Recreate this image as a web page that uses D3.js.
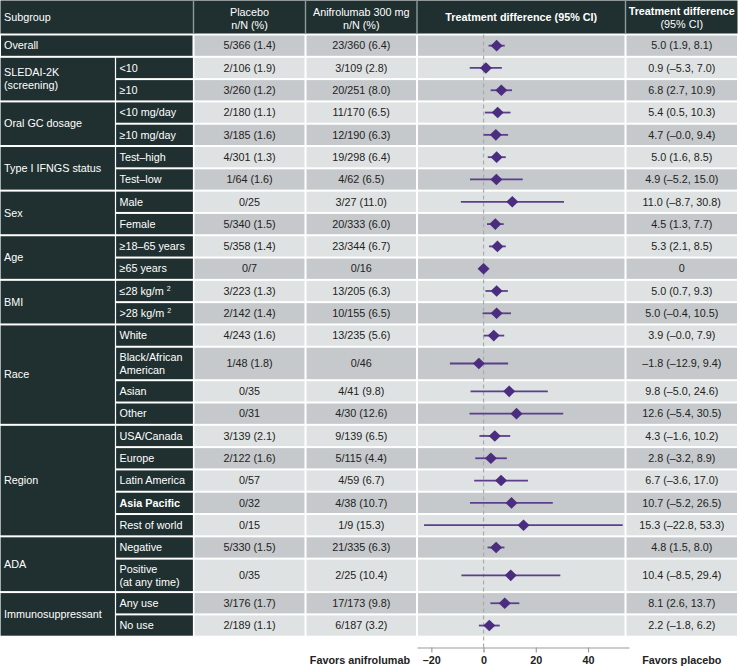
<!DOCTYPE html>
<html><head><meta charset="utf-8">
<script src="https://cdn.jsdelivr.net/npm/d3@7"></script>
<style>
body{margin:0;background:#fff}
svg{display:block}
text{font-family:"Liberation Sans",Arial,Helvetica,sans-serif;font-size:10.8px}
</style>
</head><body>
<svg id="c" width="738" height="668"></svg>
<script>
// ---------- data ----------
const groupLabels = ["Overall","SLEDAI-2K\n(screening)","Oral GC dosage","Type I IFNGS status","Sex","Age","BMI","Race","Region","ADA","Immunosuppressant"];
const groupSizes  = [1,2,2,2,2,2,2,4,5,2,2];
const subgroups = [null,"<10","≥10","<10 mg/day","≥10 mg/day","Test–high","Test–low","Male","Female","≥18–65 years","≥65 years","≤28 kg/m²",">28 kg/m²","White","Black/African\nAmerican","Asian","Other","USA/Canada","Europe","Latin America","Asia Pacific","Rest of world","Negative","Positive\n(at any time)","Any use","No use"];
const placebo = ["5/366 (1.4)","2/106 (1.9)","3/260 (1.2)","2/180 (1.1)","3/185 (1.6)","4/301 (1.3)","1/64 (1.6)","0/25","5/340 (1.5)","5/358 (1.4)","0/7","3/223 (1.3)","2/142 (1.4)","4/243 (1.6)","1/48 (1.8)","0/35","0/31","3/139 (2.1)","2/122 (1.6)","0/57","0/32","0/15","5/330 (1.5)","0/35","3/176 (1.7)","2/189 (1.1)"];
const anifrolumab = ["23/360 (6.4)","3/109 (2.8)","20/251 (8.0)","11/170 (6.5)","12/190 (6.3)","19/298 (6.4)","4/62 (6.5)","3/27 (11.0)","20/333 (6.0)","23/344 (6.7)","0/16","13/205 (6.3)","10/155 (6.5)","13/235 (5.6)","0/46","4/41 (9.8)","4/30 (12.6)","9/139 (6.5)","5/115 (4.4)","4/59 (6.7)","4/38 (10.7)","1/9 (15.3)","21/335 (6.3)","2/25 (10.4)","17/173 (9.8)","6/187 (3.2)"];
const estimate = [5.0,0.9,6.8,5.4,4.7,5.0,4.9,11.0,4.5,5.3,0,5.0,5.0,3.9,-1.8,9.8,12.6,4.3,2.8,6.7,10.7,15.3,4.8,10.4,8.1,2.2];
const lower = [1.9,-5.3,2.7,0.5,-0.0,1.6,-5.2,-8.7,1.3,2.1,null,0.7,-0.4,-0.0,-12.9,-5.0,-5.4,-1.6,-3.2,-3.6,-5.2,-22.8,1.5,-8.5,2.6,-1.8];
const upper = [8.1,7.0,10.9,10.3,9.4,8.5,15.0,30.8,7.7,8.5,null,9.3,10.5,7.9,9.4,24.6,30.5,10.2,8.9,17.0,26.5,53.3,8.0,29.4,13.7,6.2];
const diffText = ["5.0 (1.9, 8.1)","0.9 (–5.3, 7.0)","6.8 (2.7, 10.9)","5.4 (0.5, 10.3)","4.7 (–0.0, 9.4)","5.0 (1.6, 8.5)","4.9 (–5.2, 15.0)","11.0 (–8.7, 30.8)","4.5 (1.3, 7.7)","5.3 (2.1, 8.5)","0","5.0 (0.7, 9.3)","5.0 (–0.4, 10.5)","3.9 (–0.0, 7.9)","–1.8 (–12.9, 9.4)","9.8 (–5.0, 24.6)","12.6 (–5.4, 30.5)","4.3 (–1.6, 10.2)","2.8 (–3.2, 8.9)","6.7 (–3.6, 17.0)","10.7 (–5.2, 26.5)","15.3 (–22.8, 53.3)","4.8 (1.5, 8.0)","10.4 (–8.5, 29.4)","8.1 (2.6, 13.7)","2.2 (–1.8, 6.2)"];
const boldSubgroups = ["Asia Pacific"];
const xTicks = [-20,0,20,40];
const xDomain = [-25.5,55.7];

// ---------- layout ----------
const C = {dark:"#203030", gDark:"#c5c9cb", gLight:"#dfe2e3", gap:"#f2f3f3", ink:"#222", purple:"#4b2d7f", ci:"#5b3f8e"};
const cols = [0,115.5,193.5,305.5,417,625.5,738];
const headerH = 34.5;
const rowUnits = subgroups.map(s => (s && s.includes("\n")) ? 1.5 : 1);
const cum = [0]; rowUnits.forEach(u => cum.push(cum[cum.length-1]+u));
const yU = d3.scaleLinear().domain([0, cum[cum.length-1]]).range([headerH, 636.7]);
const rowTop = i => yU(cum[i]), rowBot = i => yU(cum[i+1]), rowMid = i => (rowTop(i)+rowBot(i))/2;
const xs = d3.scaleLinear().domain(xDomain).range([417,629]);

const svg = d3.select("#c");
svg.append("rect").attr("width",738).attr("height",668).attr("fill","#fff");

function cell(x0,x1,y0,y1,fill,ix=1,iy=1){
  svg.append("rect").attr("x",x0+ix).attr("y",y0+iy)
    .attr("width",x1-x0-2*ix).attr("height",y1-y0-2*iy).attr("fill",fill);
}
function label(txt,x,y,anchor,color,bold){
  const lines = txt.split("\n");
  const lh = 12.8, y0 = y - (lines.length-1)*lh/2;
  lines.forEach((ln,k)=>{
    const t = svg.append("text").attr("x",x).attr("y",y0+k*lh).attr("dy","0.35em")
      .attr("text-anchor",anchor).attr("fill",color).attr("font-weight",bold?"bold":"normal");
    if (ln.includes("²")) {
      const p = ln.split("²");
      t.append("tspan").text(p[0]+" ");
      t.append("tspan").text("2").attr("font-size","7px").attr("dy","-4");
    } else t.text(ln);
  });
}

// header
svg.append("rect").attr("x",0.5).attr("y",0.5).attr("width",737).attr("height",headerH-1.5).attr("fill",C.dark);
[2,3,4,5].forEach(k=>svg.append("line").attr("x1",cols[k]).attr("x2",cols[k]).attr("y1",0).attr("y2",headerH-1)
  .attr("stroke","#8e9a9a").attr("stroke-width",1.4));
label("Subgroup",4,17,"start","#fff",false);
label("Placebo\nn/N (%)",(cols[2]+cols[3])/2,18.5,"middle","#fff",false);
label("Anifrolumab 300 mg\nn/N (%)",(cols[3]+cols[4])/2,18.5,"middle","#fff",false);
label("Treatment difference (95% CI)",(cols[4]+cols[5])/2,17.5,"middle","#fff",true);
label("Treatment difference",(cols[5]+cols[6])/2,11.5,"middle","#fff",true);
label("(95% CI)",(cols[5]+cols[6])/2,24,"middle","#fff",false);

// body cells
subgroups.forEach((s,i)=>{
  const y0=rowTop(i), y1=rowBot(i), fill = i%2===0 ? C.gDark : C.gLight;
  for (let k=2;k<6;k++) cell(cols[k],cols[k+1],y0,y1,fill);
  if (s) { cell(cols[1],cols[2],y0,y1,C.dark,0.6,1); label(s,cols[1]+4,rowMid(i),"start","#fff",boldSubgroups.includes(s)); }
  label(placebo[i],(cols[2]+cols[3])/2,rowMid(i),"middle",C.ink,false);
  label(anifrolumab[i],(cols[3]+cols[4])/2,rowMid(i),"middle",C.ink,false);
  label(diffText[i],(cols[5]+cols[6])/2,rowMid(i),"middle",C.ink,false);
});
// group cells
let r=0;
groupLabels.forEach((g,gi)=>{
  const n=groupSizes[gi], y0=rowTop(r), y1=rowBot(r+n-1);
  const x1 = subgroups[r]===null ? cols[2] : cols[1];
  cell(cols[0],x1,y0,y1,C.dark,subgroups[r]===null?1:0.6,1);
  label(g,4,(y0+y1)/2,"start","#fff",false);
  r+=n;
});

// reference line
svg.append("line").attr("x1",xs(0)).attr("x2",xs(0)).attr("y1",headerH).attr("y2",652)
  .attr("stroke","#a9acad").attr("stroke-width",1.2).attr("stroke-dasharray","4,3");

// CI + diamonds
subgroups.forEach((s,i)=>{
  const cy=rowMid(i);
  if (lower[i]!==null) svg.append("line").attr("x1",xs(lower[i])).attr("x2",xs(upper[i]))
    .attr("y1",cy).attr("y2",cy).attr("stroke",C.ci).attr("stroke-width",1.8);
  const cx=xs(estimate[i]), hw=6, hh=5.8;
  svg.append("path").attr("d",`M${cx-hw},${cy}L${cx},${cy-hh}L${cx+hw},${cy}L${cx},${cy+hh}Z`).attr("fill",C.purple);
});

// axis
const ax = svg.append("g").attr("transform","translate(0,647.5)")
  .call(d3.axisBottom(xs).tickValues(xTicks).tickSize(5).tickSizeOuter(0).tickPadding(4)
    .tickFormat(d=> d<0 ? "–"+Math.abs(d) : String(d)));
ax.select(".domain").attr("stroke","#9c9c9c").attr("stroke-width",1.2);
ax.selectAll(".tick line").attr("stroke","#9c9c9c").attr("stroke-width",1.2);
ax.selectAll(".tick text").attr("fill",C.ink).attr("font-weight","bold")
  .style("font-family",'"Liberation Sans",Arial,sans-serif').style("font-size","10.8px");

svg.append("text").attr("x",410).attr("y",664).attr("text-anchor","end").attr("font-weight","bold").attr("fill",C.ink).text("Favors anifrolumab");
svg.append("text").attr("x",(cols[5]+cols[6])/2).attr("y",664).attr("text-anchor","middle").attr("font-weight","bold").attr("fill",C.ink).text("Favors placebo");
</script>
</body></html>
